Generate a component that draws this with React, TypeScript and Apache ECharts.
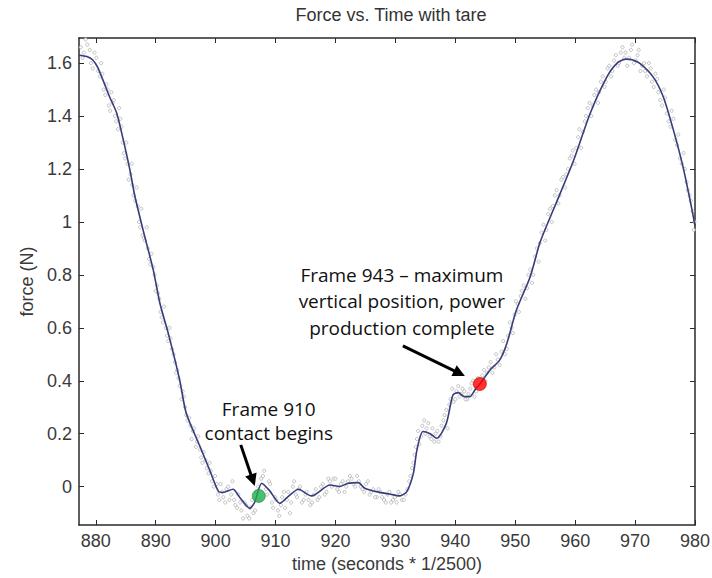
import React, { useEffect, useRef } from "react";
import * as echarts from "echarts";

// smoothed force trace (frame, N)
const smoothTime = [
  877.2, 878.5, 879.5, 880.3, 881.2, 882.3, 883.5, 884.6, 885.7, 886.5, 887.9, 889.6, 890.7, 892.1,
  894.0, 895.1, 897.4, 899.0, 900.5, 901.2, 902.9, 904.0, 905.7, 906.5, 907.7, 909.0, 910.7, 912.0,
  913.8, 916.0, 919.1, 920.7, 922.0, 923.8, 924.9, 926.8, 929.0, 930.7, 931.9, 933.0, 933.6, 934.6,
  935.8, 936.9, 938.5, 939.6, 940.5, 941.5, 942.4, 943.4, 944.1, 945.8, 947.4, 948.6, 950.2, 952.5,
  954.1, 955.5, 956.9, 959.7, 962.5, 965.3, 967.0, 968.5, 969.5, 970.8, 973.0, 974.7, 976.4, 978.0,
  979.4, 980.0,
];
const smoothForce = [
  1.63, 1.625, 1.612, 1.585, 1.536, 1.473, 1.411, 1.309, 1.196, 1.1, 0.969, 0.818, 0.693, 0.579,
  0.403, 0.277, 0.151, 0.063, -0.019, -0.022, -0.01, -0.04, -0.082, -0.06, 0.013, -0.015, -0.063, -0.04,
  -0.01, -0.035, 0.006, 0.0, 0.012, 0.015, -0.006, -0.019, -0.028, -0.035, -0.019, 0.05, 0.139, 0.208,
  0.2, 0.183, 0.239, 0.346, 0.355, 0.34, 0.34, 0.37, 0.388, 0.441, 0.478, 0.541, 0.667, 0.793,
  0.92, 1.0, 1.075, 1.23, 1.41, 1.548, 1.6, 1.615, 1.613, 1.599, 1.548, 1.473, 1.347, 1.208,
  1.057, 0.985,
];

// raw samples (grey circles), first pass
const rawTime = [
  877.5, 878.0, 878.6, 879.2, 879.8, 880.4, 880.9, 881.3, 881.8, 882.2, 882.6, 883.0, 883.4, 883.9,
  884.3, 884.7, 885.1, 885.5, 886.0, 886.3, 886.8, 887.2, 887.6, 888.0, 888.5, 888.9, 889.3, 889.8,
  890.2, 890.6, 891.0, 891.4, 891.9, 892.3, 892.7, 893.2, 893.6, 894.0, 894.5, 894.9, 895.3, 895.8,
  896.2, 896.7, 897.1, 897.6, 898.0, 898.5, 899.0, 899.4, 899.9, 900.4, 900.8, 901.3, 901.8, 902.3,
  902.8, 903.3, 903.8, 904.3, 904.8, 905.3, 905.8, 906.3, 906.8, 907.3, 907.9, 908.4, 908.9, 909.4,
  909.9, 910.4, 910.9, 911.4, 911.9, 912.4, 912.9, 913.4, 913.9, 914.4, 915.0, 915.5, 916.1, 916.7,
  917.3, 917.9, 918.5, 919.1, 919.7, 920.3, 920.9, 921.5, 922.1, 922.7, 923.3, 923.9, 924.5, 925.1,
  925.7, 926.3, 926.9, 927.5, 928.1, 928.7, 929.3, 929.9, 930.5, 931.1, 931.7, 932.3, 932.8, 933.2,
  933.6, 934.0, 934.5, 935.0, 935.5, 936.0, 936.5, 937.0, 937.5, 938.0, 938.5, 939.0, 939.5, 940.0,
  940.5, 941.0, 941.5, 942.0, 942.5, 943.0, 943.5, 944.5, 945.0, 945.6, 946.2, 946.8, 947.4, 948.0,
  948.6, 949.1, 949.6, 950.1, 950.6, 951.1, 951.7, 952.2, 952.8, 953.3, 953.9, 954.4, 955.0, 955.5,
  956.1, 956.6, 957.2, 957.7, 958.3, 958.8, 959.4, 959.9, 960.5, 961.0, 961.6, 962.1, 962.7, 963.2,
  963.8, 964.3, 964.9, 965.4, 966.0, 966.5, 967.1, 967.6, 968.2, 968.7, 969.3, 969.8, 970.4, 970.9,
  971.5, 972.0, 972.6, 973.1, 973.7, 974.2, 974.8, 975.3, 975.9, 976.4, 977.0, 977.5, 978.1, 978.6,
  979.1, 979.6, 979.9,
];
const rawForce = [
  1.66, 1.64, 1.67, 1.6, 1.64, 1.57, 1.6, 1.5, 1.52, 1.44, 1.49, 1.46, 1.38, 1.43,
  1.36, 1.26, 1.3, 1.16, 1.22, 1.1, 1.13, 1.0, 1.05, 0.94, 0.98, 0.86, 0.88, 0.8,
  0.76, 0.71, 0.64, 0.68, 0.57, 0.6, 0.52, 0.47, 0.44, 0.38, 0.36, 0.3, 0.25, 0.23,
  0.21, 0.15, 0.19, 0.11, 0.13, 0.07, 0.09, 0.02, 0.04, -0.03, 0.01, -0.04, -0.01, -0.05,
  0.02, -0.07, -0.03, -0.09, -0.06, -0.11, -0.08, -0.1, -0.02, -0.05, 0.04, -0.01, 0.02, -0.06,
  -0.04, -0.09, -0.07, -0.02, -0.05, -0.1, 0.0, -0.03, -0.01, -0.06, -0.03, -0.05, -0.06, -0.01,
  -0.04, 0.01, -0.02, 0.02, 0.03, -0.01, 0.01, -0.02, 0.02, 0.03, 0.0, 0.02, -0.01, 0.01,
  -0.03, -0.01, -0.04, -0.02, -0.05, -0.03, -0.06, -0.04, -0.02, -0.05, -0.03, 0.02, 0.07, 0.12,
  0.18, 0.16, 0.23, 0.2, 0.24, 0.18, 0.17, 0.21, 0.19, 0.25, 0.29, 0.31, 0.37, 0.33,
  0.38, 0.35, 0.36, 0.33, 0.37, 0.4, 0.36, 0.42, 0.4, 0.45, 0.43, 0.5, 0.46, 0.55,
  0.52, 0.62, 0.58, 0.7, 0.66, 0.74, 0.71, 0.8, 0.77, 0.87, 0.85, 0.96, 0.93, 1.03,
  1.0, 1.1, 1.07, 1.16, 1.13, 1.2, 1.25, 1.22, 1.32, 1.28, 1.38, 1.43, 1.4, 1.48,
  1.45, 1.53, 1.51, 1.58, 1.55, 1.61, 1.59, 1.64, 1.62, 1.59, 1.65, 1.6, 1.63, 1.57,
  1.6, 1.55, 1.58, 1.51, 1.54, 1.46, 1.5, 1.41, 1.36, 1.39, 1.29, 1.24, 1.26, 1.15,
  1.1, 1.04, 1.0,
];

// raw samples, second pass
const rawTimeB = [
  877.8, 878.3, 879.0, 879.5, 880.1, 880.7, 881.1, 881.6, 882.0, 882.4, 882.8, 883.2, 883.7, 884.1,
  884.5, 884.9, 885.3, 885.8, 886.1, 886.6, 887.0, 887.4, 887.8, 888.2, 888.7, 889.1, 889.6, 890.0,
  890.4, 890.8, 891.2, 891.7, 892.1, 892.5, 893.0, 893.4, 893.8, 894.3, 894.7, 895.1, 895.6, 896.0,
  896.4, 896.9, 897.4, 897.8, 898.3, 898.8, 899.2, 899.7, 900.2, 900.6, 901.1, 901.6, 902.1, 902.6,
  903.1, 903.6, 904.1, 904.6, 905.1, 905.6, 906.1, 906.6, 907.1, 907.6, 908.1, 908.6, 909.1, 909.6,
  910.1, 910.6, 911.1, 911.6, 912.1, 912.6, 913.1, 913.6, 914.1, 914.7, 915.2, 915.8, 916.4, 917.0,
  917.6, 918.2, 918.8, 919.4, 920.0, 920.6, 921.2, 921.8, 922.4, 923.0, 923.6, 924.2, 924.8, 925.4,
  926.0, 926.6, 927.2, 927.8, 928.4, 929.0, 929.6, 930.2, 930.8, 931.4, 932.0, 932.5, 933.0, 933.4,
  933.8, 934.3, 934.8, 935.2, 935.7, 936.2, 936.7, 937.2, 937.7, 938.2, 938.7, 939.2, 939.7, 940.2,
  940.7, 941.2, 941.7, 942.2, 942.7, 943.2, 943.8, 944.8, 945.3, 945.9, 946.5, 947.1, 947.7, 948.3,
  948.8, 949.4, 949.9, 950.4, 950.9, 951.4, 952.0, 952.5, 953.0, 953.6, 954.1, 954.7, 955.2, 955.8,
  956.3, 956.9, 957.4, 958.0, 958.5, 959.1, 959.6, 960.2, 960.7, 961.3, 961.8, 962.4, 962.9, 963.5,
  964.0, 964.6, 965.1, 965.7, 966.2, 966.8, 967.3, 967.9, 968.4, 969.0, 969.5, 970.1, 970.6, 971.2,
  971.7, 972.3, 972.8, 973.4, 973.9, 974.5, 975.0, 975.6, 976.1, 976.7, 977.2, 977.8, 978.3, 978.8,
  979.3, 979.8,
];
const rawForceB = [
  1.62, 1.69, 1.65, 1.58, 1.62, 1.55, 1.56, 1.48, 1.5, 1.42, 1.45, 1.4, 1.35, 1.39,
  1.3, 1.24, 1.22, 1.18, 1.14, 1.08, 1.06, 0.98, 0.95, 0.93, 0.9, 0.84, 0.83, 0.74,
  0.73, 0.66, 0.62, 0.6, 0.55, 0.56, 0.5, 0.43, 0.41, 0.33, 0.34, 0.27, 0.26, 0.18,
  0.22, 0.17, 0.14, 0.09, 0.1, 0.05, 0.06, 0.0, 0.01, -0.05, -0.02, -0.06, 0.0, -0.03,
  -0.05, -0.08, -0.06, -0.12, -0.07, -0.12, -0.05, -0.09, 0.0, 0.03, 0.06, -0.03, 0.01, -0.08,
  -0.05, -0.11, -0.04, -0.08, -0.02, -0.06, 0.02, -0.04, 0.0, -0.05, -0.02, -0.07, -0.03, -0.05,
  0.0, -0.03, 0.03, 0.0, 0.03, -0.02, 0.02, 0.0, 0.04, 0.01, 0.04, 0.0, -0.02, 0.02,
  -0.02, -0.04, -0.01, -0.04, -0.06, -0.02, -0.05, -0.06, -0.03, -0.05, -0.01, 0.04, 0.09, 0.15,
  0.21, 0.19, 0.25, 0.22, 0.19, 0.22, 0.2, 0.17, 0.23, 0.27, 0.22, 0.33, 0.32, 0.36,
  0.34, 0.37, 0.33, 0.35, 0.39, 0.34, 0.41, 0.44, 0.43, 0.47, 0.45, 0.48, 0.51, 0.5,
  0.57, 0.6, 0.65, 0.69, 0.72, 0.76, 0.75, 0.82, 0.8, 0.9, 0.92, 0.99, 0.97, 1.05,
  1.06, 1.12, 1.1, 1.17, 1.18, 1.24, 1.27, 1.28, 1.35, 1.34, 1.4, 1.45, 1.44, 1.5,
  1.49, 1.55, 1.53, 1.59, 1.57, 1.63, 1.6, 1.66, 1.64, 1.62, 1.67, 1.61, 1.65, 1.59,
  1.57, 1.6, 1.53, 1.56, 1.49, 1.44, 1.47, 1.38, 1.42, 1.31, 1.33, 1.22, 1.2, 1.12,
  1.08, 0.97,
];

// key frames
const eventTime = [907.2, 944.1];
const eventForce = [-0.035, 0.388];
const eventColor = ["#1fae4f", "#ff0000"];
const eventEdge = ["#168a3d", "#c00000"];
const eventNotes = [
  ["Frame 910", "contact begins"],
  ["Frame 943 \u2013 maximum", "vertical position, power", "production complete"],
];

const xTicks = [880, 890, 900, 910, 920, 930, 940, 950, 960, 970, 980];
const yTicks = [0, 0.2, 0.4, 0.6, 0.8, 1, 1.2, 1.4, 1.6];
const xRange = [877.2, 980];
const yRange = [-0.145, 1.695];

const AX = "#2a2a2a";
const FONT = "'Liberation Sans', Arial, sans-serif";
const NOTE_FONT = "'Open Sans', sans-serif";

// annotation layout in pixels, relative to the event point
const noteLayout = [
  { tail: [-18, -51], tip: [-4, -10], textDx: 10, textDy: [-87, -63] },
  { tail: [-77, -38], tip: [-15, -8], textDx: -78, textDy: [-109, -83, -56] },
];

export default function App() {
  const ref = useRef<HTMLDivElement>(null);
  useEffect(() => {
    if (!ref.current) return;
    const chart = echarts.init(ref.current, undefined, { renderer: "svg" });
    const tickStyle = { show: true, inside: true, length: 5, lineStyle: { color: AX, width: 1 } };
    const axisLine = { show: true, onZero: false, lineStyle: { color: AX, width: 1.5 } };
    const labelStyle = { color: "#3a3a3a", fontSize: 18, fontFamily: FONT };
    const option: any = {
      animation: false,
      backgroundColor: "#ffffff",
      title: {
        text: "Force vs. Time with tare",
        left: 386,
        top: 1,
        textAlign: "center",
        textStyle: { fontSize: 18, fontWeight: "normal", color: "#333", fontFamily: FONT },
      },
      grid: { left: 79, right: 17, top: 38, bottom: 53, containLabel: false, outerBoundsMode: "none" },
      xAxis: [
        {
          type: "value",
          position: "bottom",
          min: xRange[0],
          max: xRange[1],
          axisLine,
          axisTick: { ...tickStyle, customValues: xTicks },
          axisLabel: { ...labelStyle, margin: 7, customValues: xTicks, formatter: (v: number) => String(v) },
          splitLine: { show: false },
          name: "time (seconds * 1/2500)",
          nameLocation: "middle",
          nameGap: 28,
          nameTextStyle: labelStyle,
        },
        {
          type: "value",
          position: "top",
          min: xRange[0],
          max: xRange[1],
          axisLine,
          axisTick: { ...tickStyle, customValues: xTicks },
          axisLabel: { show: false },
          splitLine: { show: false },
        },
      ],
      yAxis: [
        {
          type: "value",
          position: "left",
          min: yRange[0],
          max: yRange[1],
          axisLine,
          axisTick: { ...tickStyle, customValues: yTicks },
          axisLabel: {
            ...labelStyle,
            margin: 7,
            customValues: yTicks,
            formatter: (v: number) => String(Math.round(v * 10) / 10),
          },
          splitLine: { show: false },
          name: "force (N)",
          nameLocation: "middle",
          nameGap: 43,
          nameRotate: 90,
          nameTextStyle: labelStyle,
        },
        {
          type: "value",
          position: "right",
          min: yRange[0],
          max: yRange[1],
          axisLine,
          axisTick: { ...tickStyle, customValues: yTicks },
          axisLabel: { show: false },
          splitLine: { show: false },
        },
      ],
      series: [
        {
          type: "scatter",
          silent: true,
          symbol: "circle",
          symbolSize: 3.2,
          itemStyle: { color: "#ffffff", borderColor: "#a9a9a9", borderWidth: 0.9 },
          data: rawTime
            .map((t, i) => [t, rawForce[i]])
            .concat(rawTimeB.map((t, i) => [t, rawForceB[i]])),
          z: 1,
        },
        {
          type: "line",
          silent: true,
          showSymbol: false,
          smooth: 0.25,
          lineStyle: { color: "#383c7c", width: 1.6 },
          data: smoothTime.map((t, i) => [t, smoothForce[i]]),
          z: 2,
        },
        {
          type: "scatter",
          silent: true,
          symbol: "circle",
          symbolSize: 13,
          data: eventTime.map((t, i) => ({
            value: [t, eventForce[i]],
            itemStyle: { color: eventColor[i], borderColor: eventEdge[i], borderWidth: 0.8 },
          })),
          z: 5,
        },
      ],
    };
    chart.setOption(option);

    const graphics: any[] = [];
    eventTime.forEach((t, i) => {
      const p = chart.convertToPixel({ xAxisIndex: 0, yAxisIndex: 0 }, [t, eventForce[i]]) as number[];
      const L = noteLayout[i];
      const tail = [p[0] + L.tail[0], p[1] + L.tail[1]];
      const tip = [p[0] + L.tip[0], p[1] + L.tip[1]];
      const dx = tip[0] - tail[0];
      const dy = tip[1] - tail[1];
      const len = Math.hypot(dx, dy);
      const ux = dx / len;
      const uy = dy / len;
      const headLen = 12;
      const headHalf = 6;
      const base = [tip[0] - ux * headLen, tip[1] - uy * headLen];
      graphics.push({
        type: "line",
        shape: { x1: tail[0], y1: tail[1], x2: base[0] + ux * 2, y2: base[1] + uy * 2 },
        style: { stroke: "#000", lineWidth: 3 },
        z: 10,
      });
      graphics.push({
        type: "polygon",
        shape: {
          points: [
            tip,
            [base[0] - uy * headHalf, base[1] + ux * headHalf],
            [base[0] + uy * headHalf, base[1] - ux * headHalf],
          ],
        },
        style: { fill: "#000" },
        z: 10,
      });
      eventNotes[i].forEach((line, k) => {
        graphics.push({
          type: "text",
          x: p[0] + L.textDx,
          y: p[1] + L.textDy[k],
          style: {
            text: line,
            fill: "#111",
            fontSize: 19,
            fontFamily: NOTE_FONT,
            align: "center",
            verticalAlign: "middle",
          },
          z: 10,
        });
      });
    });
    chart.setOption({ graphic: graphics });

    return () => chart.dispose();
  }, []);
  return <div ref={ref} style={{ position: "fixed", left: 0, top: 0, width: 712, height: 578 }} />;
}
